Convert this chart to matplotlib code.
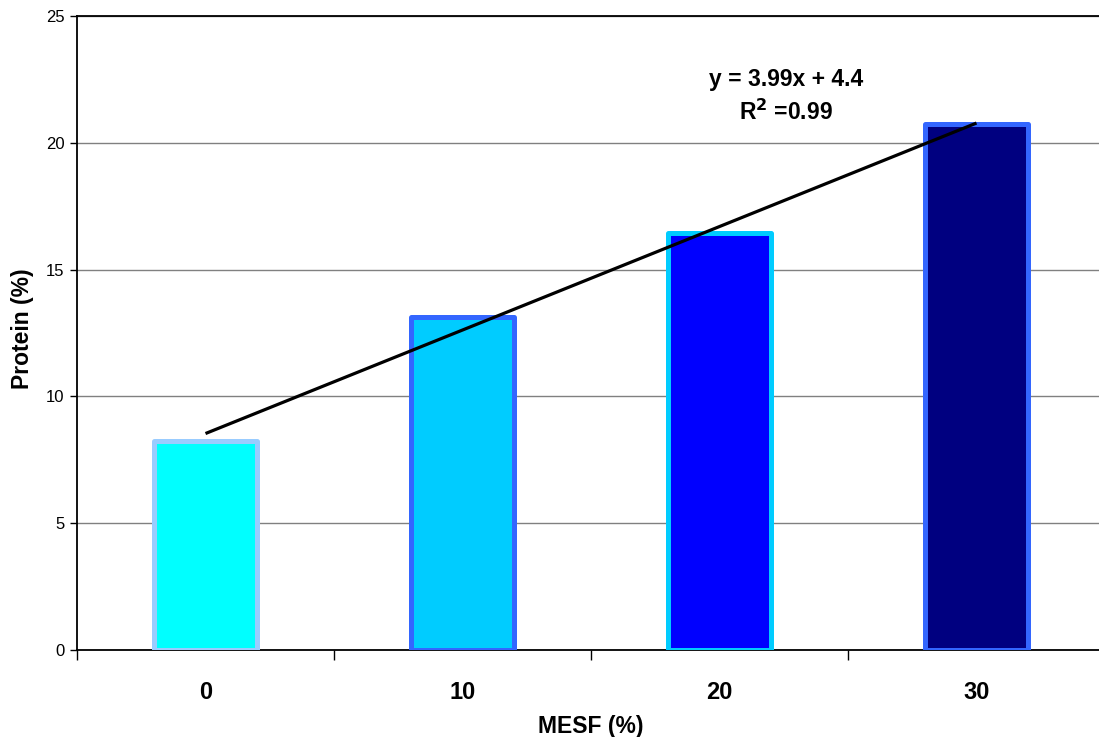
import matplotlib
matplotlib.use("Agg")
import matplotlib.pyplot as plt
import numpy as np

categories = ["0", "10", "20", "30"]
protein = [8.26, 13.15, 16.46, 20.76]
face_colors = ["#00FFFF", "#00CCFF", "#0000FF", "#000080"]
edge_colors = ["#99CCFF", "#3366FF", "#00CCFF", "#3366FF"]
equation_text = "y = 3.99x + 4.4"
r2_text = r"R$^{\mathbf{2}}$ =0.99"

plt.rcParams['font.family'] = ['Liberation Sans', 'DejaVu Sans']

fig = plt.figure(figsize=(10.99, 7.37), dpi=100)
ax = fig.add_axes([77/1099, 87/737, 1028/1099, 634/737])

x = np.arange(len(categories))
bars = ax.bar(x, protein, width=0.4, color=face_colors, edgecolor=edge_colors,
              linewidth=3.6, zorder=3)
for b in bars:
    b.set_joinstyle('round')

# linear trendline (Excel-style, x = 1..n)
xi = np.arange(1, len(protein) + 1)
slope, intercept = np.polyfit(xi, protein, 1)
ax.plot(x, slope * xi + intercept, color='black', linewidth=2.3, zorder=4,
        solid_capstyle='butt')

ax.text(2.26, 22.48, equation_text, ha='center', va='center', fontsize=16.5, fontweight='bold')
ax.text(2.26, 21.2, r2_text, ha='center', va='center', fontsize=16.5, fontweight='bold')

ax.set_xlim(-0.5, 3.5)
ax.set_ylim(0, 25)
ax.set_yticks([0, 5, 10, 15, 20, 25])
ax.tick_params(axis='y', labelsize=12, length=5, width=1, direction='out', pad=4)
ax.set_xticks(x)
ax.set_xticklabels(categories, fontsize=17, fontweight='bold')
ax.tick_params(axis='x', which='major', length=0, pad=22)
ax.set_xticks(np.arange(-0.5, 4.0, 1.0), minor=True)
ax.tick_params(axis='x', which='minor', length=7, width=1, direction='out')

ax.yaxis.grid(True, color='#808080', linewidth=1)
ax.set_axisbelow(True)

for s in ['left', 'bottom', 'top']:
    ax.spines[s].set_linewidth(1.3)
    ax.spines[s].set_color('black')
ax.spines['right'].set_visible(False)

ax.set_xlabel("MESF (%)", fontsize=16.5, fontweight='bold')
ax.xaxis.label.set_va('center')
ax.xaxis.set_label_coords(0.5, -(727 - 650) / 634)
ax.set_ylabel("Protein (%)", fontsize=16.5, fontweight='bold')
ax.yaxis.label.set_va('center')
ax.yaxis.set_label_coords((22 - 77) / 1028, (650 - 329) / 634)

fig.savefig("out.png", dpi=100)
